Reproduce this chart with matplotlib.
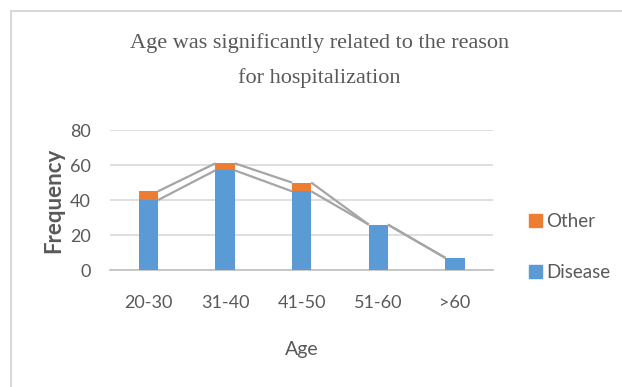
import matplotlib.pyplot as plt
from matplotlib.patches import Rectangle
from matplotlib.lines import Line2D

AGES = ["20-30", "31-40", "41-50", "51-60", ">60"]
DISEASE = [40, 57, 45, 26, 7]
OTHER = [5, 4, 5, 0, 0]

BLUE = "#5B9BD5"
ORANGE = "#ED7D31"
TXT = "#595959"
W = 0.25

fig = plt.figure(figsize=(6.22, 3.87), dpi=100)
ax = fig.add_axes([0.177, 0.302, 0.616, 0.362])

x = list(range(len(AGES)))
ax.bar(x, DISEASE, width=W, color=BLUE, zorder=3)
ax.bar(x, OTHER, width=W, bottom=DISEASE, color=ORANGE, zorder=3)

# series lines between stacked segments
totals = [d + o for d, o in zip(DISEASE, OTHER)]
for tops in (DISEASE, totals):
    for i in range(len(x) - 1):
        ax.plot([x[i] + W / 2, x[i + 1] - W / 2], [tops[i], tops[i + 1]],
                color="#A5A5A5", lw=1.6, zorder=4, solid_capstyle="butt")

ax.set_xlim(-0.5, len(AGES) - 0.5)
ax.set_ylim(0, 80)
ax.set_yticks([0, 20, 40, 60, 80])
ax.set_xticks(x)
ax.set_xticklabels(AGES)
ax.yaxis.grid(True, color="#D9D9D9", lw=1.2, zorder=0)
for s in ("top", "right", "left"):
    ax.spines[s].set_visible(False)
ax.spines["bottom"].set_color("#BFBFBF")
ax.spines["bottom"].set_linewidth(1.2)
ax.tick_params(length=0, labelsize=13, labelcolor=TXT, labelfontfamily="Lato")
ax.tick_params(axis="y", pad=14)
ax.tick_params(axis="x", pad=18)

fig.text(0.086, 0.483, "Frequency", rotation=90, ha="center", va="center",
         fontsize=16, color=TXT, family="Lato", fontweight="bold")
fig.text(0.485, 0.096, "Age", ha="center", va="center", fontsize=14,
         color=TXT, family="Lato")
fig.text(0.514, 0.843, "Age was significantly related to the reason\nfor hospitalization",
         ha="center", va="center", fontsize=16, color=TXT,
         family="Liberation Serif", linespacing=2.0)

# legend
handles = [Rectangle((0, 0), 1, 1, color=ORANGE), Rectangle((0, 0), 1, 1, color=BLUE)]
leg = fig.legend(handles, ["Other", "Disease"], loc="center left",
                 bbox_to_anchor=(0.823, 0.362), frameon=False, handlelength=0.7,
                 handleheight=0.7, handletextpad=0.25, labelspacing=1.8,
                 prop={"family": "Lato", "size": 13.5})
for t in leg.get_texts():
    t.set_color(TXT)

# chart border (left and top)
fig.add_artist(Line2D([0.018, 0.018], [0, 0.972], transform=fig.transFigure,
                      color="#D9D9D9", lw=1.5))
fig.add_artist(Line2D([0.018, 1], [0.972, 0.972], transform=fig.transFigure,
                      color="#D9D9D9", lw=1.5))

fig.savefig("out.png", dpi=100)
